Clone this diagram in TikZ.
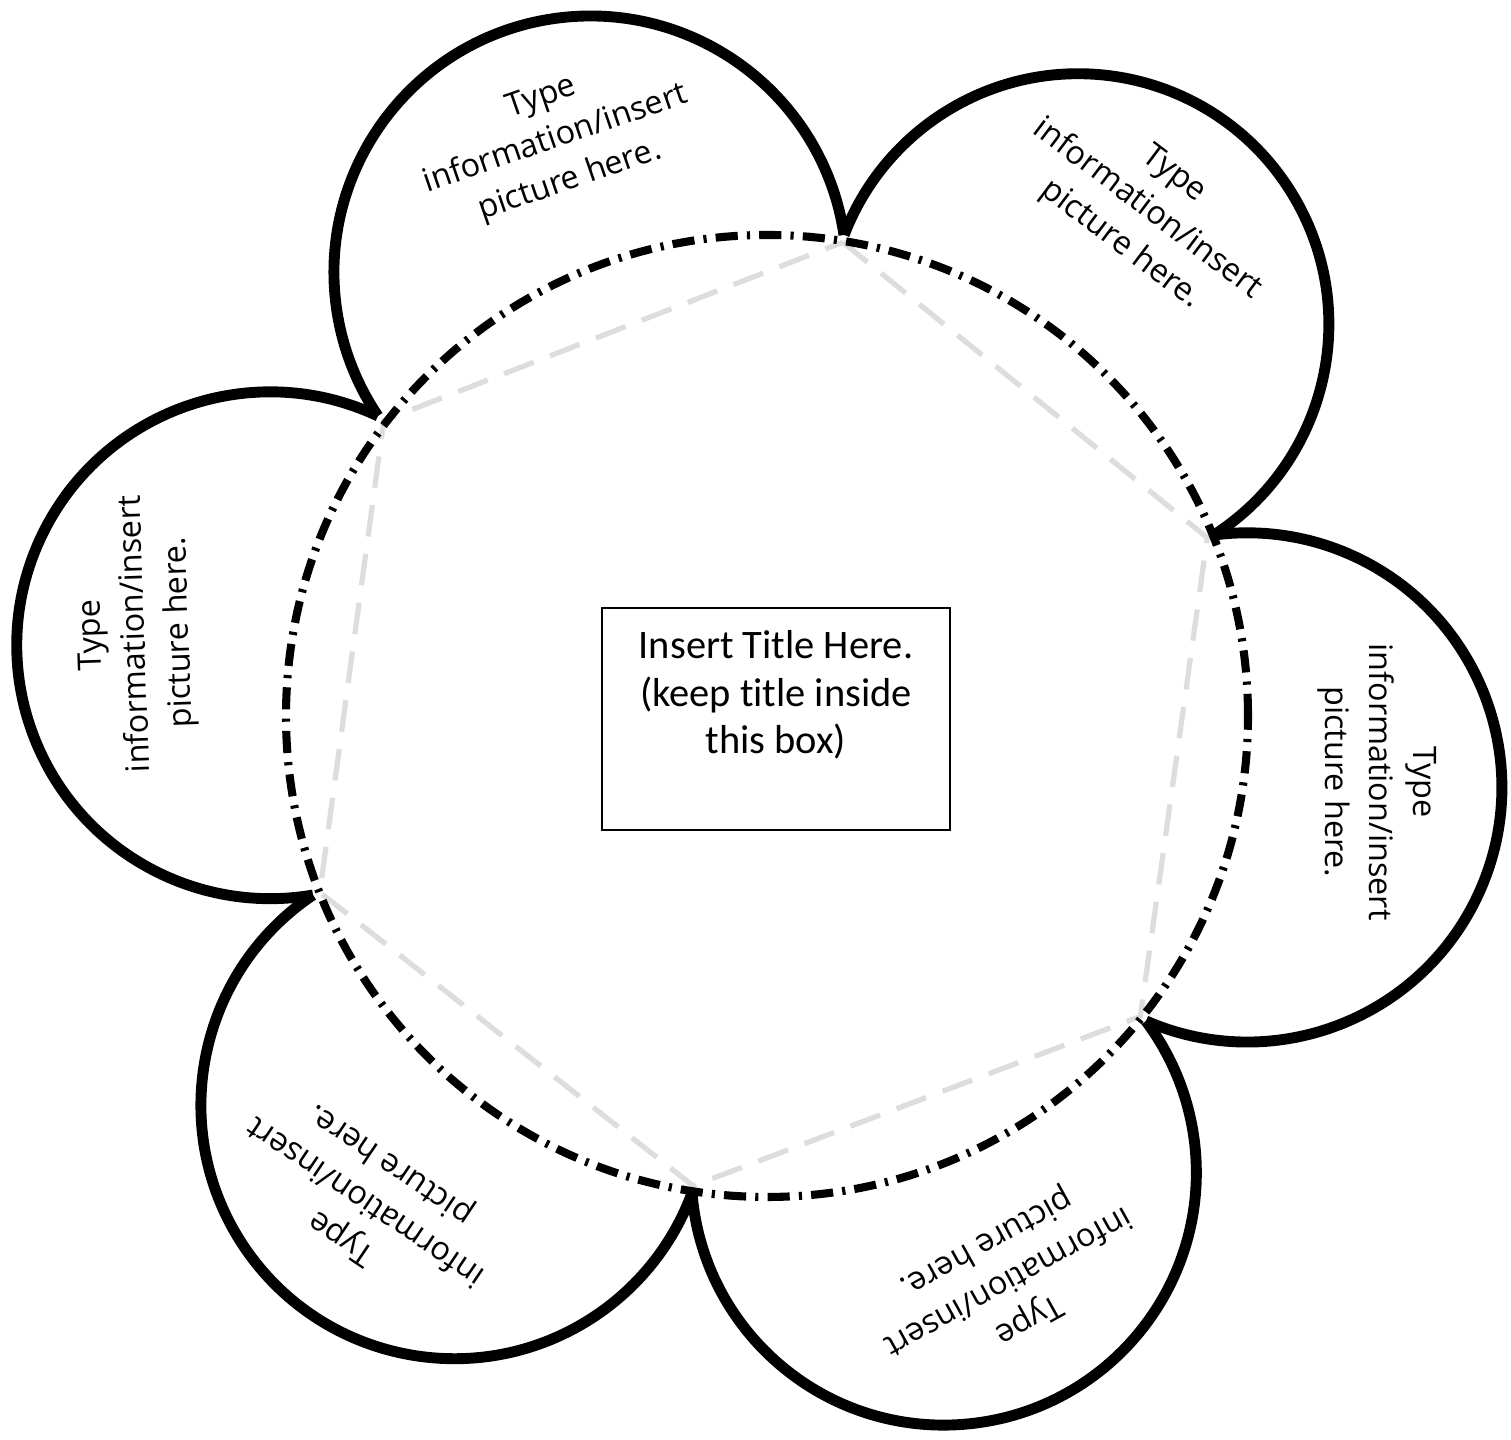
\documentclass[tikz,border=0pt]{standalone}
\usepackage{fontspec}
\setmainfont{Carlito}[Ligatures=NoCommon]
\newfontfamily\petalfamily{Open Sans}
\usetikzlibrary{calc}
\definecolor{hexgray}{HTML}{DDDDDD}
\newcommand{\petalfont}{\petalfamily\fontsize{9.2}{12.5}\selectfont}
\newcommand{\titlefont}{\fontsize{11.5}{13.5}\selectfont}
\tikzset{
  petal/.style={line width=3.1pt, black},
  ring/.style={line width=2.3pt, black, dash pattern=on 6.3pt off 2.6pt on 0.9pt off 2.6pt},
  hexline/.style={line width=1.5pt, hexgray, dash pattern=on 9pt off 5pt},
  petaltext/.style={font=\petalfont, align=center, inner sep=0pt},
  titlebox/.style={draw, line width=0.6pt, minimum width=3.48cm, minimum height=2.22cm, inner sep=0pt},
  titletext/.style={font=\titlefont, align=center, inner sep=0pt}
}
\begin{document}
\begin{tikzpicture}[x=0.01cm, y=0.01cm]
\useasboundingbox (0,0) rectangle (1511,1440);
\coordinate (O) at (767,724);
\coordinate (V1) at (844,1205);
\coordinate (V2) at (1214,905);
\coordinate (V3) at (1146,419);
\coordinate (V4) at (692,247);
\coordinate (V5) at (313,545);
\coordinate (V6) at (378,1024);
% gray dashed hexagon
\draw[hexline] ($(O)!0.985!(V1)$) -- ($(O)!0.985!(V2)$) -- ($(O)!0.985!(V3)$)
  -- ($(O)!0.985!(V4)$) -- ($(O)!0.985!(V5)$) -- ($(O)!0.985!(V6)$) -- cycle;
% dash-dot ring
\draw[ring] (O) circle[radius=481];
% petals
\draw[petal] (V1) arc[start angle=8.39, end angle=214.06, radius=256.4];
\draw[petal] (V2) arc[start angle=-57.2, end angle=159.1, radius=250.6];
\draw[petal] (V3) arc[start angle=-113.44, end angle=97.5, radius=254.6];
\draw[petal] (V4) arc[start angle=-175.35, end angle=36.84, radius=252.6];
\draw[petal] (V5) arc[start angle=123.9, end angle=339.75, radius=253.4];
\draw[petal] (V6) arc[start angle=64.82, end angle=279.73, radius=253.4];
% centre box
\node[titlebox] (box) at (776,721) {};
\node[titletext, anchor=north] (title) at ([yshift=-0.23cm]box.north)
  {Insert Title Here.\\(keep title inside\\this box)};
% petal texts
\node[petaltext, rotate=19] (t1) at (556,1300) {Type\\information/insert\\picture here.};
\node[petaltext, rotate=-37] (t2) at (1147,1230) {Type\\information/insert\\picture here.};
\node[petaltext, rotate=-90] (t3) at (1377,658) {Type\\information/insert\\picture here.};
\node[petaltext, rotate=-151] (t4) at (1007,160) {Type\\information/insert\\picture here.};
\node[petaltext, rotate=146] (t5) at (367,240) {Type\\information/insert\\picture here.};
\node[petaltext, rotate=92] (t6) at (137,806) {Type\\information/insert\\picture here.};
\end{tikzpicture}
\end{document}
